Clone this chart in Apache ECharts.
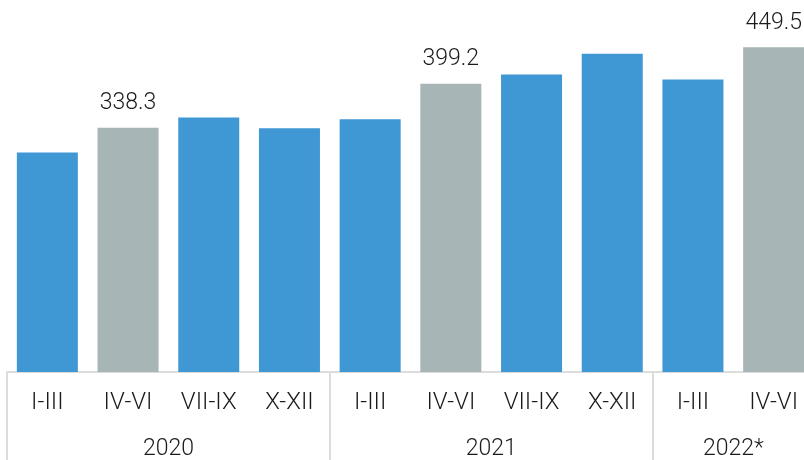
<!DOCTYPE html>
<html>
<head>
<meta charset="utf-8">
<script src="https://cdn.jsdelivr.net/npm/echarts@6/dist/echarts.min.js"></script>
<style>
  html, body { margin: 0; padding: 0; background: #fff; }
  #chart { width: 804px; height: 460px; }
</style>
</head>
<body>
<div id="chart"></div>
<script>
// quarters per year
const quarters = ['I-III', 'IV-VI', 'VII-IX', 'X-XII', 'I-III', 'IV-VI', 'VII-IX', 'X-XII', 'I-III', 'IV-VI']
const values = [304.0, 338.3, 352.3, 337.5, 349.8, 399.2, 412.0, 440.8, 405.0, 449.5]
const labelled = [1, 5, 9] // grey bars with a value shown
const years = ['2020', '2021', '2022*']
const yearCenters = [2, 6, 9]
const yearBounds = [0, 4, 8]

const blue = '#3f97d3'
const grey = '#a8b5b6'
const font = 'Roboto'

const chart = echarts.init(document.getElementById('chart'))

chart.setOption({
  animation: false,
  grid: {
    left: 7,
    width: 807, // last bar runs off the right edge
    top: 47,
    bottom: 88,
    outerBoundsMode: 'none'
  },
  xAxis: [{
    type: 'category',
    data: quarters,
    axisLine: { lineStyle: { color: '#dcdcdc', width: 2 } },
    axisTick: { show: false },
    axisLabel: {
      margin: 19,
      fontSize: 24,
      fontFamily: font,
      fontWeight: 300,
      color: '#1a1a1a'
    }
  }, {
    type: 'value',
    min: 0,
    max: 10,
    position: 'bottom',
    axisLine: { show: false },
    splitLine: { show: false },
    axisTick: {
      show: true,
      customValues: yearBounds,
      length: 92,
      lineStyle: { color: '#dcdcdc', width: 2 }
    },
    axisLabel: {
      customValues: yearCenters,
      margin: 66,
      fontSize: 23,
      fontFamily: font,
      fontWeight: 300,
      color: '#1a1a1a',
      formatter: (v) => years[yearCenters.indexOf(v)]
    }
  }],
  yAxis: {
    type: 'value',
    min: 0,
    max: 450,
    show: false
  },
  series: [{
    type: 'bar',
    xAxisIndex: 0,
    barWidth: 61,
    data: values.map((v, i) => {
      const hi = labelled.indexOf(i) !== -1
      return {
        value: v,
        itemStyle: { color: hi ? grey : blue },
        label: {
          show: hi,
          position: 'top',
          distance: 13,
          fontSize: 23,
          fontFamily: font,
          fontWeight: 300,
          color: '#1a1a1a',
          formatter: (p) => p.value.toFixed(1)
        }
      }
    })
  }]
})
</script>
</body>
</html>
